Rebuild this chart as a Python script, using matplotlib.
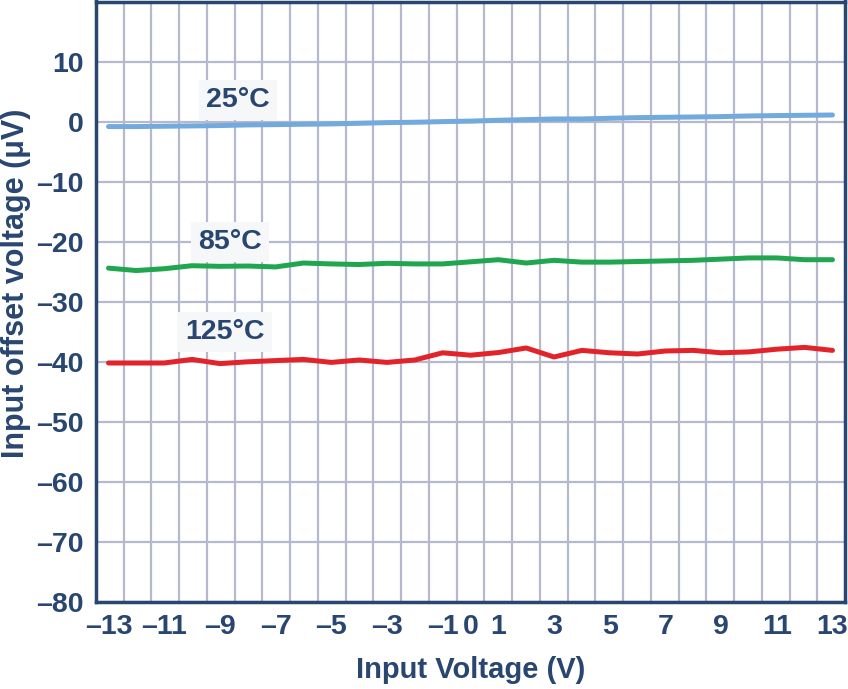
import numpy as np
import matplotlib
matplotlib.use("Agg")
import matplotlib.pyplot as plt

# ---- data ----
input_voltage = list(range(-13, 14))
offset_25C = [-0.83, -0.83, -0.77, -0.72, -0.66, -0.55, -0.50, -0.44, -0.39, -0.28, -0.17, -0.11, 0.0,
              0.08, 0.22, 0.33, 0.44, 0.44, 0.55, 0.66, 0.72, 0.77, 0.83, 0.94, 1.0, 1.05, 1.1]
offset_85C = [-24.4, -24.8, -24.5, -24.0, -24.1, -24.05, -24.2, -23.55, -23.7, -23.8, -23.6, -23.7, -23.7,
              -23.35, -23.0, -23.55, -23.1, -23.4, -23.4, -23.3, -23.2, -23.1, -22.9, -22.7, -22.7, -23.0, -23.0]
offset_125C = [-40.2, -40.2, -40.2, -39.6, -40.3, -40.0, -39.8, -39.6, -40.1, -39.7, -40.1, -39.7, -38.5,
               -38.9, -38.46, -37.7, -39.2, -38.1, -38.5, -38.7, -38.2, -38.1, -38.5, -38.35, -37.9, -37.6, -38.1]
series_labels = ["25°C", "85°C", "125°C"]
label_pos = [(-8.36, 3.6), (-8.63, -20.0), (-8.83, -35.0)]
x_ticks = [-13, -11, -9, -7, -5, -3, -1, 0, 1, 3, 5, 7, 9, 11, 13]
y_ticks = [-80, -70, -60, -50, -40, -30, -20, -10, 0, 10]

navy = "#284670"
grid_c = "#b6b9cd"
colors = ["#72aadd", "#1fa64e", "#e3232a"]

plt.rcParams['font.family'] = ['Liberation Sans', 'DejaVu Sans']
plt.rcParams['font.weight'] = 'bold'

fig = plt.figure(figsize=(8.48, 6.89), dpi=100)
ax = fig.add_axes([96/848, 87/689, (845-96)/848, (602-1.5)/689])

xmin, xmax = -13.45, 13.45
ax.set_xlim(xmin, xmax)
ax.set_ylim(-80, 20)

# grid
ax.set_xticks(x_ticks)
ax.set_xticks(np.linspace(xmin, xmax, 28)[1:-1], minor=True)
ax.set_yticks(y_ticks)
ax.grid(False)
ax.xaxis.grid(True, which='minor', color=grid_c, linewidth=1.6)
ax.yaxis.grid(True, which='major', color=grid_c, linewidth=1.6)
ax.set_axisbelow(True)

for ys, c in zip([offset_25C, offset_85C, offset_125C], colors):
    ax.plot(input_voltage, ys, color=c, linewidth=3.6, solid_capstyle='round', solid_joinstyle='round', zorder=3)

for (tx, ty), lab in zip(label_pos, series_labels):
    ax.text(tx, ty, lab, ha='center', va='center', fontsize=20.5, fontweight='bold', color=navy,
            bbox=dict(boxstyle='square,pad=0.25', facecolor='#f6f7f9', edgecolor='none'), zorder=4)

ax.set_xticklabels([str(v).replace('-', '\u2013') for v in x_ticks])
ax.set_yticklabels([str(v).replace('-', '\u2013') for v in y_ticks])
ax.tick_params(axis='both', which='both', length=0, labelsize=20.5, labelcolor=navy)
ax.tick_params(axis='x', pad=9)
ax.tick_params(axis='y', pad=9)
for lab in ax.get_xticklabels() + ax.get_yticklabels():
    lab.set_fontweight('bold')

for s in ax.spines.values():
    s.set_color(navy)
    s.set_linewidth(2.5)

ax.set_xlabel("Input Voltage (V)", fontsize=21, fontweight='bold', color=navy, labelpad=11)
ax.set_ylabel("Input offset voltage (μV)", fontsize=22, fontweight='bold', color=navy, va='center')
ax.yaxis.set_label_coords(-0.107, 0.53)

fig.savefig("out.png", dpi=100)
